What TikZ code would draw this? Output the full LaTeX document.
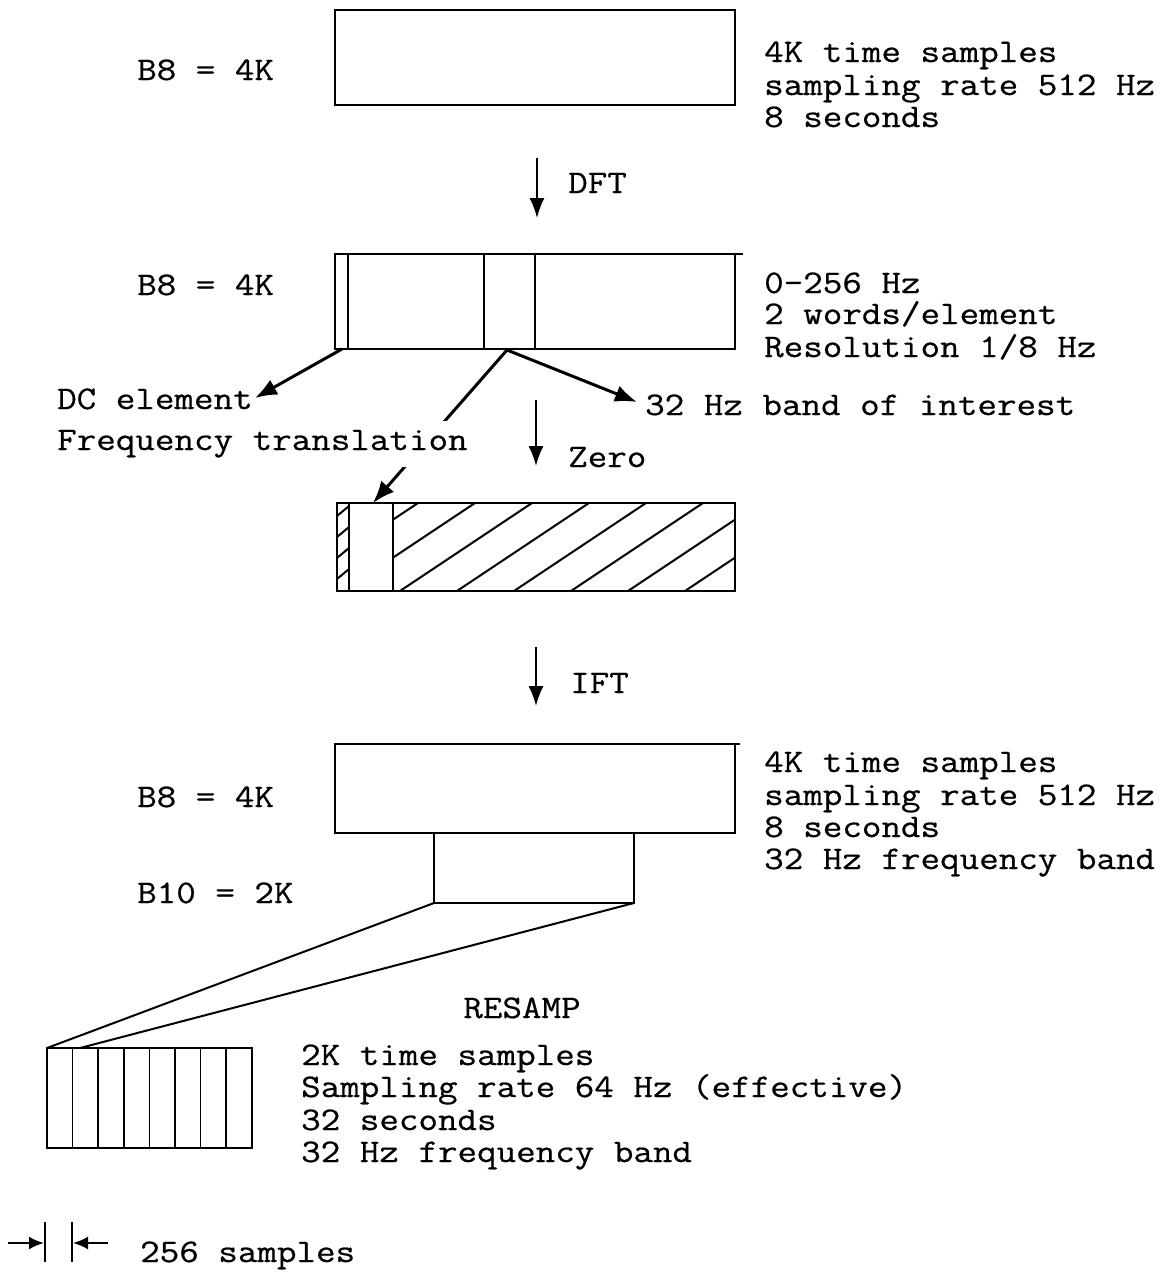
\documentclass[tikz,border=0pt]{standalone}
\usepackage{fontspec}
\setmonofont{Latin Modern Mono}[FakeStretch=1.15,FakeBold=0.6]
\usetikzlibrary{arrows.meta}
\begin{document}
\begin{tikzpicture}[x=1pt,y=-1pt,
  txt/.style={font=\ttfamily\fontsize{33pt}{32.5pt}\selectfont, inner sep=0pt, anchor=base west},
  txtc/.style={txt, anchor=base},
  boxnode/.style={draw, line width=2.2pt, inner sep=0pt, outer sep=0pt},
  divline/.style={line width=1.6pt},
  hatch/.style={line width=2pt},
  bigarrow/.style={line width=3pt, -{Latex[length=22pt,width=17pt]}},
  vertarrow/.style={line width=1.8pt, -{Latex[length=20pt,width=15pt]}},
  fanline/.style={line width=2pt},
  dimarrow/.style={line width=2.2pt, -{Latex[length=15pt,width=13pt]}}]
\useasboundingbox (0,0) rectangle (1164,1278);

% ---------- box 1 ----------
\node[boxnode, minimum width=400pt, minimum height=95pt] (box1) at (535,57.5) {};
\node[txt] (b8a) at (137,80) {B8 = 4K};
\node[txt] (r1a) at (764,62) {4K time samples};
\node[txt] (r1b) at (764,95) {sampling rate 512 Hz};
\node[txt] (r1c) at (764,127) {8 seconds};

% DFT arrow
\coordinate (dftA) at (537,158);
\coordinate (dftB) at (537,218);
\draw[vertarrow] (dftA) -- (dftB);
\node[txt] (dft) at (568,193) {DFT};

% ---------- box 2 ----------
\node[boxnode, minimum width=400pt, minimum height=95pt] (box2) at (535,301.5) {};
\draw[divline] (348,254) -- (348,349);
\draw[divline] (484,254) -- (484,349);
\draw[divline] (535,254) -- (535,349);
\draw[line width=2.2pt] (box2.north east) -- ++(8,0);
\node[txt] (b8b) at (137,295) {B8 = 4K};
\node[txt] (r2a) at (764,293) {0-256 Hz};
\node[txt] (r2b) at (764,324) {2 words/element};
\node[txt] (r2c) at (764,357) {Resolution 1/8 Hz};

% arrows from box 2
\coordinate (b2dc) at (342,349);
\coordinate (b2mid) at (507,350);
\node[txt] (dc) at (57,409) {DC element};
\node[txt] (band) at (645,415) {32 Hz band of interest};
\coordinate (dctip) at (255,398);
\coordinate (bandtip) at (637,402);
\coordinate (fttip) at (373,503);
\draw[bigarrow] (b2dc) -- (dctip);
\draw[bigarrow] (b2mid) -- (bandtip);
\draw[bigarrow] (b2mid) -- (fttip);
\node[txt, fill=white, inner ysep=9pt] (ft) at (57,450) {Frequency translation};

% Zero arrow
\coordinate (zeroA) at (536,400);
\coordinate (zeroB) at (536,466);
\draw[vertarrow] (zeroA) -- (zeroB);
\node[txt] (zero) at (568,467) {Zero};

% ---------- box 3 (hatched) ----------
\begin{scope}
\clip (393,503) rectangle (735,591);
\foreach \k in {-2,...,6} { \draw[hatch] ({400+57*\k},591) -- ++(132,-88); }
\end{scope}
\begin{scope}
\clip (337,503) rectangle (349,591);
\foreach \yy in {516,537,558,579} { \draw[hatch] (337,\yy) -- ++(12,-10); }
\end{scope}
\node[boxnode, minimum width=398pt, minimum height=88pt] (box3) at (536,547) {};
\draw[divline] (349,503) -- (349,591);
\draw[divline] (393,503) -- (393,591);

% IFT arrow
\coordinate (iftA) at (536,647);
\coordinate (iftB) at (536,706);
\draw[vertarrow] (iftA) -- (iftB);
\node[txt] (ift) at (570,693) {IFT};

% ---------- box 4 ----------
\node[boxnode, minimum width=400pt, minimum height=89pt] (box4) at (535,788.5) {};
\draw[line width=2.2pt] (box4.north east) -- ++(5,0);
\node[txt] (b8c) at (137,807) {B8 = 4K};
\node[txt] (r4a) at (764,772) {4K time samples};
\node[txt] (r4b) at (764,805) {sampling rate 512 Hz};
\node[txt] (r4c) at (764,837) {8 seconds};
\node[txt] (r4d) at (764,869) {32 Hz frequency band};

% ---------- box 5 (B10) ----------
\node[boxnode, line width=1.6pt, minimum width=200pt, minimum height=70pt] (box5) at (534,868) {};
\node[txt] (b10) at (137,903) {B10 = 2K};

% ---------- small box ----------
\node[boxnode, minimum width=205pt, minimum height=100pt] (box6) at (149.5,1098) {};
\foreach \i in {1,...,7} { \draw[divline] ({47+25.6*\i},1048) -- ({47+25.6*\i},1148); }
\coordinate (fanR) at (80,1048);
\draw[fanline] (box5.south west) -- (box6.north west);
\draw[fanline] (box5.south east) -- (fanR);
\node[txtc] (resamp) at (522,1018) {RESAMP};
\node[txt] (r6a) at (301,1065) {2K time samples};
\node[txt] (r6b) at (301,1097) {Sampling rate 64 Hz (effective)};
\node[txt] (r6c) at (301,1130) {32 seconds};
\node[txt] (r6d) at (301,1162) {32 Hz frequency band};

% ---------- dimension ----------
\coordinate (tickLa) at (45,1222);
\coordinate (tickLb) at (45,1262);
\coordinate (tickRa) at (72,1222);
\coordinate (tickRb) at (72,1262);
\draw[line width=2.2pt] (tickLa) -- (tickLb);
\draw[line width=2.2pt] (tickRa) -- (tickRb);
\coordinate (dimLs) at (8,1243);
\coordinate (dimLe) at (44,1243);
\coordinate (dimRs) at (108,1243);
\coordinate (dimRe) at (73,1243);
\draw[dimarrow] (dimLs) -- (dimLe);
\draw[dimarrow] (dimRs) -- (dimRe);
\node[txt] (dimtxt) at (140,1262) {256 samples};
\end{tikzpicture}
\end{document}
